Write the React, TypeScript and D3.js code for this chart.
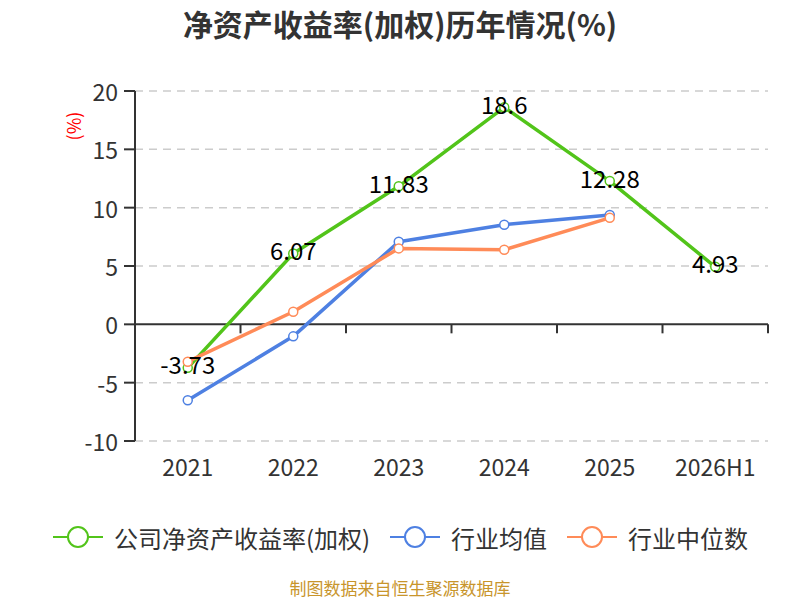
import * as d3 from "d3";

const categories = ["2021", "2022", "2023", "2024", "2025", "2026H1"];
const companyRoe = [-3.73, 6.07, 11.83, 18.6, 12.28, 4.93];
const industryAvg = [-6.51, -1.03, 7.08, 8.54, 9.37, null];
const industryMedian = [-3.2, 1.08, 6.51, 6.39, 9.13, null];
const yTicks = [-10, -5, 0, 5, 10, 15, 20];

const seriesNames = ["公司净资产收益率(加权)", "行业均值", "行业中位数"];
const seriesColors = ["#52c41a", "#4e80e2", "#ff8b58"];

const font = "'Noto Sans CJK SC', 'Noto Sans', sans-serif";

export default function App() {
  const width = 800;
  const height = 600;
  const margin = { top: 91, right: 32, bottom: 159, left: 135 };

  const x = d3
    .scaleBand<string>()
    .domain(categories)
    .range([margin.left, width - margin.right]);

  const y = d3
    .scaleLinear()
    .domain([-10, 20])
    .range([height - margin.bottom, margin.top]);

  const cx = (c: string) => (x(c) ?? 0) + x.bandwidth() / 2;

  const line = d3
    .line<number | null>()
    .defined((d) => d !== null)
    .x((_, i) => cx(categories[i]))
    .y((d) => y(d as number));

  const allSeries = [companyRoe, industryAvg, industryMedian];
  const boundaries = d3.range(categories.length + 1).map((i) =>
    margin.left + i * x.step()
  );

  // legend layout: icon start x for each item
  const legendX = [53, 390, 567];

  return (
    <svg
      width={width}
      height={height}
      style={{ position: "absolute", left: 0, top: 0, background: "#fff" }}
      fontFamily={font}
    >
      {/* title */}
      <text
        x={width / 2}
        y={23}
        textAnchor="middle"
        dominantBaseline="central"
        fontSize={30}
        fontWeight="bold"
        fill="#333"
      >
        净资产收益率(加权)历年情况(%)
      </text>

      {/* unit label */}
      <text
        transform={`translate(73, 126) rotate(-90)`}
        textAnchor="middle"
        dominantBaseline="central"
        fontSize={18}
        fill="#ff0000"
      >
        (%)
      </text>

      {/* grid lines */}
      {yTicks
        .filter((t) => t !== 0)
        .map((t) => (
          <line
            key={`g${t}`}
            x1={margin.left}
            x2={width - margin.right}
            y1={y(t)}
            y2={y(t)}
            stroke="#ccc"
            strokeWidth={1.5}
            strokeDasharray="8,6"
          />
        ))}

      {/* y axis */}
      <line
        x1={margin.left}
        x2={margin.left}
        y1={y(20)}
        y2={y(-10)}
        stroke="#333"
        strokeWidth={2}
      />
      {yTicks.map((t) => (
        <g key={`y${t}`}>
          <line
            x1={margin.left - 11}
            x2={margin.left}
            y1={y(t)}
            y2={y(t)}
            stroke="#333"
            strokeWidth={2}
          />
          <text
            x={margin.left - 17}
            y={y(t)}
            textAnchor="end"
            dominantBaseline="central"
            fontSize={23}
            fill="#333"
          >
            {t}
          </text>
        </g>
      ))}

      {/* x axis at zero */}
      <line
        x1={margin.left}
        x2={width - margin.right}
        y1={y(0)}
        y2={y(0)}
        stroke="#333"
        strokeWidth={2}
      />
      {boundaries.map((b, i) => (
        <line
          key={`xt${i}`}
          x1={b}
          x2={b}
          y1={y(0)}
          y2={y(0) + 9}
          stroke="#333"
          strokeWidth={2}
        />
      ))}
      {categories.map((c) => (
        <text
          key={c}
          x={cx(c)}
          y={y(-10) + 25}
          textAnchor="middle"
          dominantBaseline="central"
          fontSize={23}
          fill="#333"
        >
          {c}
        </text>
      ))}

      {/* series */}
      {allSeries.map((s, si) => (
        <g key={`s${si}`}>
          <path
            d={line(s) ?? ""}
            fill="none"
            stroke={seriesColors[si]}
            strokeWidth={3.5}
            strokeLinejoin="round"
          />
          {s.map((v, i) =>
            v === null ? null : (
              <circle
                key={i}
                cx={cx(categories[i])}
                cy={y(v)}
                r={4.5}
                fill="#fff"
                stroke={seriesColors[si]}
                strokeWidth={1.5}
              />
            )
          )}
        </g>
      ))}

      {/* data labels */}
      {companyRoe.map((v, i) => (
        <text
          key={`l${i}`}
          x={cx(categories[i])}
          y={y(v) - 4}
          textAnchor="middle"
          dominantBaseline="central"
          fontSize={24}
          fill="#000"
        >
          {v}
        </text>
      ))}

      {/* legend */}
      {seriesNames.map((name, i) => {
        const lx = legendX[i];
        const ly = 537;
        return (
          <g key={name}>
            <line
              x1={lx}
              x2={lx + 50}
              y1={ly}
              y2={ly}
              stroke={seriesColors[i]}
              strokeWidth={2}
            />
            <circle
              cx={lx + 25}
              cy={ly}
              r={10}
              fill="#fff"
              stroke={seriesColors[i]}
              strokeWidth={2}
            />
            <text
              x={lx + 61}
              y={ly}
              dominantBaseline="central"
              fontSize={24}
              fill="#333"
            >
              {name}
            </text>
          </g>
        );
      })}

      {/* source */}
      <text
        x={width / 2}
        y={587}
        textAnchor="middle"
        dominantBaseline="central"
        fontSize={17}
        fill="#c8952c"
      >
        制图数据来自恒生聚源数据库
      </text>
    </svg>
  );
}
